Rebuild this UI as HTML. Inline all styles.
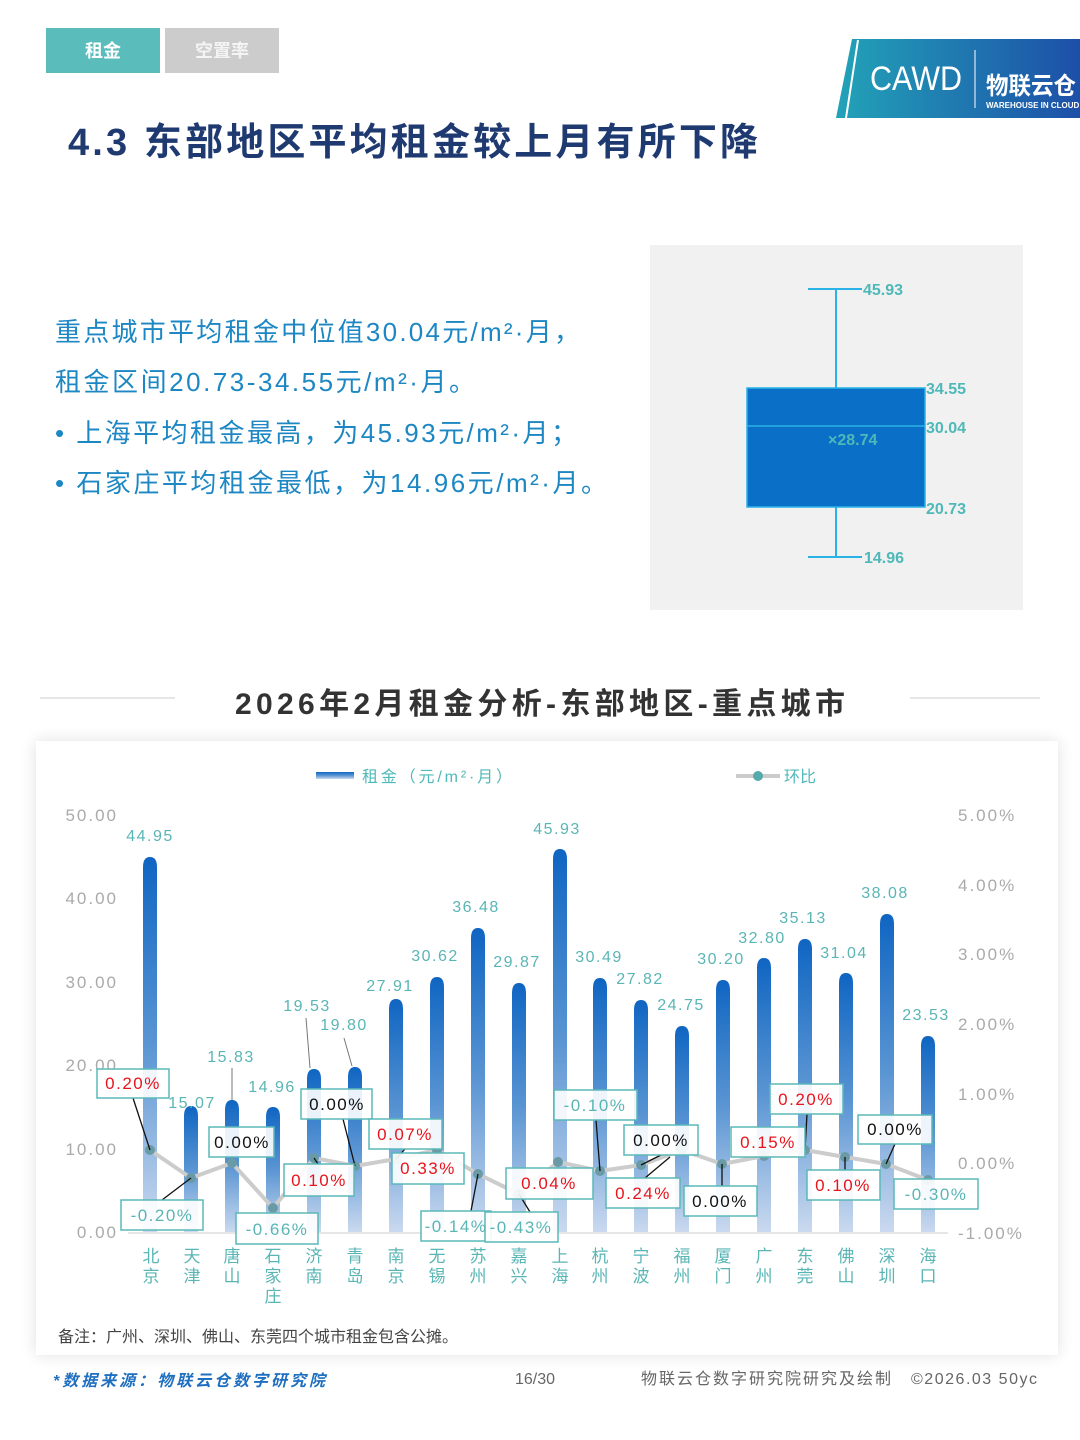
<!DOCTYPE html>
<html><head><meta charset="utf-8"><style>
html,body{margin:0;padding:0;background:#fff;}
svg{display:block;}
</style></head><body>
<svg width="1080" height="1440" viewBox="0 0 1080 1440" xmlns="http://www.w3.org/2000/svg" font-family="Liberation Sans, Noto Sans CJK SC, sans-serif">
<defs>
<linearGradient id="bg" x1="0" y1="0" x2="0" y2="1"><stop offset="0" stop-color="#0f65c2"/><stop offset="0.5" stop-color="#5a95d3"/><stop offset="1" stop-color="#cad9ef"/></linearGradient>
<linearGradient id="lg" x1="0" y1="0" x2="1" y2="0"><stop offset="0" stop-color="#22a3b8"/><stop offset="1" stop-color="#1d4fa8"/></linearGradient>
<filter id="sh" x="-5%" y="-5%" width="110%" height="110%"><feGaussianBlur stdDeviation="8"/></filter>
</defs>
<!-- tabs -->
<rect x="46" y="28" width="114" height="45" fill="#5bbcbc"/>
<text x="103" y="57" font-size="18" font-weight="bold" fill="#fff" text-anchor="middle">租金</text>
<rect x="165" y="28" width="114" height="45" fill="#cccccc"/>
<text x="222" y="57" font-size="18" font-weight="bold" fill="#f4f4f4" text-anchor="middle">空置率</text>
<!-- logo -->
<polygon points="852,39 1080,39 1080,118 836,118" fill="url(#lg)"/>
<line x1="858" y1="40" x2="846" y2="118" stroke="#fff" stroke-width="2"/>
<text x="916" y="90" font-size="34" fill="#fff" text-anchor="middle" textLength="92" lengthAdjust="spacingAndGlyphs">CAWD</text>
<line x1="975" y1="50" x2="975" y2="108" stroke="#fff" stroke-width="1"/>
<text x="986" y="94" font-size="24" font-weight="bold" fill="#fff" textLength="90" lengthAdjust="spacingAndGlyphs">物联云仓</text>
<text x="986" y="108" font-size="8" font-weight="bold" fill="#fff">WAREHOUSE IN CLOUD</text>
<!-- title -->
<text x="68" y="155" font-size="38" font-weight="bold" fill="#1f3a70" textLength="690">4.3 东部地区平均租金较上月有所下降</text>
<!-- left text -->
<g font-size="26" fill="#1d87c4">
<text x="55" y="341" textLength="525">重点城市平均租金中位值30.04元/m²·月，</text>
<text x="55" y="391" textLength="420">租金区间20.73-34.55元/m²·月。</text>
<text x="55" y="442" textLength="522">•  上海平均租金最高，为45.93元/m²·月；</text>
<text x="55" y="492" textLength="552">•  石家庄平均租金最低，为14.96元/m²·月。</text>
</g>
<!-- box plot -->
<rect x="650" y="245" width="373" height="365" fill="#f1f1f1"/>
<line x1="836" y1="289" x2="836" y2="388" stroke="#29b3e6" stroke-width="2"/>
<line x1="836" y1="507" x2="836" y2="557" stroke="#29b3e6" stroke-width="2"/>
<line x1="808" y1="289" x2="862" y2="289" stroke="#29b3e6" stroke-width="2"/>
<line x1="808" y1="557" x2="862" y2="557" stroke="#29b3e6" stroke-width="2"/>
<rect x="747" y="388" width="178" height="119" fill="#0a6fc6" stroke="#29b3e6" stroke-width="1.5"/>
<line x1="747" y1="426" x2="925" y2="426" stroke="#29b3e6" stroke-width="1.5"/>
<g font-size="16" font-weight="bold" fill="#4fb8b8">
<text x="863" y="295">45.93</text>
<text x="926" y="394">34.55</text>
<text x="926" y="433">30.04</text>
<text x="828" y="445">×28.74</text>
<text x="926" y="514">20.73</text>
<text x="864" y="563">14.96</text>
</g>
<!-- section title -->
<line x1="40" y1="698" x2="175" y2="698" stroke="#ddd" stroke-width="1.5"/>
<line x1="910" y1="698" x2="1040" y2="698" stroke="#ddd" stroke-width="1.5"/>
<text x="540" y="714" font-size="30" font-weight="bold" fill="#333" text-anchor="middle" textLength="610">2026年2月租金分析-东部地区-重点城市</text>
<!-- card -->
<rect x="36" y="741" width="1022" height="614" fill="#000" opacity="0.12" filter="url(#sh)"/>
<rect x="36" y="741" width="1022" height="614" fill="#fff"/>
<!-- legend -->
<rect x="316" y="772" width="38" height="7" fill="url(#bg)"/>
<text x="362" y="782" font-size="16" fill="#4fb8b8" textLength="150">租金（元/m²·月）</text>
<line x1="736" y1="776" x2="780" y2="776" stroke="#ccc" stroke-width="4"/>
<circle cx="758" cy="776" r="5" fill="#5aa"/>
<text x="784" y="782" font-size="16" fill="#4fb8b8">环比</text>
<!-- axes labels -->
<g font-size="17" fill="#aaa" text-anchor="end" letter-spacing="2">
<text x="118" y="821">50.00</text><text x="118" y="904">40.00</text><text x="118" y="988">30.00</text>
<text x="118" y="1071">20.00</text><text x="118" y="1155">10.00</text><text x="118" y="1238">0.00</text>
</g>
<g font-size="17" fill="#aaa" letter-spacing="2">
<text x="958" y="821">5.00%</text><text x="958" y="891">4.00%</text><text x="958" y="960">3.00%</text>
<text x="958" y="1030">2.00%</text><text x="958" y="1100">1.00%</text><text x="958" y="1169">0.00%</text>
<text x="958" y="1239">-1.00%</text>
</g>
<line x1="128" y1="1233" x2="948" y2="1233" stroke="#ddd" stroke-width="1.5"/>
<!-- bars -->
<g fill="url(#bg)">
<path d="M143,1232V867Q143,857 150,857Q157,857 157,867V1232Z"/>
<path d="M184,1232V1116Q184,1106 191,1106Q198,1106 198,1116V1232Z"/>
<path d="M225,1232V1110Q225,1100 232,1100Q239,1100 239,1110V1232Z"/>
<path d="M266,1232V1117Q266,1107 273,1107Q280,1107 280,1117V1232Z"/>
<path d="M307,1232V1079Q307,1069 314,1069Q321,1069 321,1079V1232Z"/>
<path d="M348,1232V1077Q348,1067 355,1067Q362,1067 362,1077V1232Z"/>
<path d="M389,1232V1009Q389,999 396,999Q403,999 403,1009V1232Z"/>
<path d="M430,1232V987Q430,977 437,977Q444,977 444,987V1232Z"/>
<path d="M471,1232V938Q471,928 478,928Q485,928 485,938V1232Z"/>
<path d="M512,1232V993Q512,983 519,983Q526,983 526,993V1232Z"/>
<path d="M553,1232V859Q553,849 560,849Q567,849 567,859V1232Z"/>
<path d="M593,1232V988Q593,978 600,978Q607,978 607,988V1232Z"/>
<path d="M634,1232V1010Q634,1000 641,1000Q648,1000 648,1010V1232Z"/>
<path d="M675,1232V1036Q675,1026 682,1026Q689,1026 689,1036V1232Z"/>
<path d="M716,1232V990Q716,980 723,980Q730,980 730,990V1232Z"/>
<path d="M757,1232V968Q757,958 764,958Q771,958 771,968V1232Z"/>
<path d="M798,1232V949Q798,939 805,939Q812,939 812,949V1232Z"/>
<path d="M839,1232V983Q839,973 846,973Q853,973 853,983V1232Z"/>
<path d="M880,1232V924Q880,914 887,914Q894,914 894,924V1232Z"/>
<path d="M921,1232V1046Q921,1036 928,1036Q935,1036 935,1046V1232Z"/>
</g>
<!-- value labels -->
<g font-size="16" fill="#5ab5b5" text-anchor="middle" letter-spacing="1.5">
<text x="150" y="841">44.95</text><text x="192" y="1108">15.07</text><text x="231" y="1062">15.83</text>
<text x="272" y="1092">14.96</text><text x="307" y="1011">19.53</text><text x="344" y="1030">19.80</text>
<text x="390" y="991">27.91</text><text x="435" y="961">30.62</text><text x="476" y="912">36.48</text>
<text x="517" y="967">29.87</text><text x="557" y="834">45.93</text><text x="599" y="962">30.49</text>
<text x="640" y="984">27.82</text><text x="681" y="1010">24.75</text><text x="721" y="964">30.20</text>
<text x="762" y="943">32.80</text><text x="803" y="923">35.13</text><text x="844" y="958">31.04</text>
<text x="885" y="898">38.08</text><text x="926" y="1020">23.53</text>
</g>
<g stroke="#777" stroke-width="1">
<line x1="232" y1="1068" x2="232" y2="1100"/><line x1="306" y1="1018" x2="310" y2="1068"/><line x1="344" y1="1038" x2="352" y2="1066"/>
</g>
<!-- line -->
<polyline points="150,1150 191,1178 232,1163 273,1208 314,1158 355,1166 396,1159 437,1150 478,1174 519,1194 558,1162 600,1171 641,1165 682,1150 722,1164 764,1156 805,1150 845,1157 886,1164 928,1180" fill="none" stroke="#ccc" stroke-width="4" stroke-linejoin="round"/>
<g fill="#6a9aa6">
<circle cx="150" cy="1150" r="5"/><circle cx="191" cy="1178" r="5"/><circle cx="232" cy="1163" r="5"/><circle cx="273" cy="1208" r="5"/><circle cx="314" cy="1158" r="5"/><circle cx="355" cy="1166" r="5"/><circle cx="396" cy="1159" r="5"/><circle cx="437" cy="1150" r="5"/><circle cx="478" cy="1174" r="5"/><circle cx="519" cy="1194" r="5"/><circle cx="558" cy="1162" r="5"/><circle cx="600" cy="1171" r="5"/><circle cx="641" cy="1165" r="5"/><circle cx="682" cy="1150" r="5"/><circle cx="722" cy="1164" r="5"/><circle cx="764" cy="1156" r="5"/><circle cx="805" cy="1150" r="5"/><circle cx="845" cy="1157" r="5"/><circle cx="886" cy="1164" r="5"/><circle cx="928" cy="1180" r="5"/>
</g>
<!-- leader lines -->
<g stroke="#111" stroke-width="1.3">
<line x1="133" y1="1098" x2="150" y2="1150"/><line x1="162" y1="1200" x2="191" y2="1178"/>
<line x1="343" y1="1119" x2="355" y2="1166"/><line x1="318" y1="1164" x2="314" y2="1158"/>
<line x1="405" y1="1149" x2="396" y2="1159"/><line x1="471" y1="1211" x2="478" y2="1174"/>
<line x1="530" y1="1212" x2="519" y2="1194"/><line x1="596" y1="1120" x2="600" y2="1171"/>
<line x1="661" y1="1155" x2="641" y2="1165"/><line x1="645" y1="1178" x2="670" y2="1157"/>
<line x1="722" y1="1186" x2="722" y2="1164"/><line x1="807" y1="1114" x2="805" y2="1150"/>
<line x1="845" y1="1170" x2="845" y2="1157"/><line x1="895" y1="1144" x2="886" y2="1164"/>
</g>
<!-- pct boxes -->
<g stroke="#5ab8b8" stroke-width="1.5" fill="#fff" fill-opacity="0.9">
<rect x="97" y="1069" width="72" height="29"/><rect x="121" y="1200" width="82" height="30"/>
<rect x="209" y="1127" width="65" height="30"/><rect x="236" y="1213" width="82" height="31"/>
<rect x="284" y="1164" width="70" height="32"/><rect x="301" y="1089" width="71" height="30"/>
<rect x="369" y="1119" width="73" height="30"/><rect x="392" y="1153" width="72" height="31"/>
<rect x="421" y="1211" width="70" height="30"/><rect x="485" y="1212" width="73" height="30"/>
<rect x="506" y="1168" width="87" height="31"/><rect x="554" y="1090" width="83" height="30"/>
<rect x="624" y="1125" width="74" height="30"/><rect x="606" y="1178" width="74" height="30"/>
<rect x="684" y="1186" width="73" height="30"/><rect x="731" y="1127" width="74" height="30"/>
<rect x="770" y="1084" width="73" height="30"/><rect x="807" y="1170" width="73" height="30"/>
<rect x="858" y="1115" width="74" height="29"/><rect x="894" y="1179" width="84" height="30"/>
</g>
<g font-size="17" text-anchor="middle" letter-spacing="1.5">
<text x="133" y="1089" fill="#e8141c">0.20%</text><text x="162" y="1221" fill="#5ab5b5">-0.20%</text>
<text x="242" y="1148" fill="#111">0.00%</text><text x="277" y="1235" fill="#5ab5b5">-0.66%</text>
<text x="319" y="1186" fill="#e8141c">0.10%</text><text x="337" y="1110" fill="#111">0.00%</text>
<text x="405" y="1140" fill="#e8141c">0.07%</text><text x="428" y="1174" fill="#e8141c">0.33%</text>
<text x="456" y="1232" fill="#5ab5b5">-0.14%</text><text x="521" y="1233" fill="#5ab5b5">-0.43%</text>
<text x="549" y="1189" fill="#e8141c">0.04%</text><text x="595" y="1111" fill="#5ab5b5">-0.10%</text>
<text x="661" y="1146" fill="#111">0.00%</text><text x="643" y="1199" fill="#e8141c">0.24%</text>
<text x="720" y="1207" fill="#111">0.00%</text><text x="768" y="1148" fill="#e8141c">0.15%</text>
<text x="806" y="1105" fill="#e8141c">0.20%</text><text x="843" y="1191" fill="#e8141c">0.10%</text>
<text x="895" y="1135" fill="#111">0.00%</text><text x="936" y="1200" fill="#5ab5b5">-0.30%</text>
</g>
<!-- city labels -->
<g font-size="17" fill="#5ab5b5" text-anchor="middle">
<text x="151" y="1262">北</text><text x="151" y="1282">京</text>
<text x="192" y="1262">天</text><text x="192" y="1282">津</text>
<text x="232" y="1262">唐</text><text x="232" y="1282">山</text>
<text x="273" y="1262">石</text><text x="273" y="1282">家</text><text x="273" y="1302">庄</text>
<text x="314" y="1262">济</text><text x="314" y="1282">南</text>
<text x="355" y="1262">青</text><text x="355" y="1282">岛</text>
<text x="396" y="1262">南</text><text x="396" y="1282">京</text>
<text x="437" y="1262">无</text><text x="437" y="1282">锡</text>
<text x="478" y="1262">苏</text><text x="478" y="1282">州</text>
<text x="519" y="1262">嘉</text><text x="519" y="1282">兴</text>
<text x="560" y="1262">上</text><text x="560" y="1282">海</text>
<text x="600" y="1262">杭</text><text x="600" y="1282">州</text>
<text x="641" y="1262">宁</text><text x="641" y="1282">波</text>
<text x="682" y="1262">福</text><text x="682" y="1282">州</text>
<text x="723" y="1262">厦</text><text x="723" y="1282">门</text>
<text x="764" y="1262">广</text><text x="764" y="1282">州</text>
<text x="805" y="1262">东</text><text x="805" y="1282">莞</text>
<text x="846" y="1262">佛</text><text x="846" y="1282">山</text>
<text x="887" y="1262">深</text><text x="887" y="1282">圳</text>
<text x="928" y="1262">海</text><text x="928" y="1282">口</text>
</g>
<text x="58" y="1342" font-size="16" fill="#444">备注：广州、深圳、佛山、东莞四个城市租金包含公摊。</text>
<!-- footer -->
<text x="53" y="1386" font-size="16" font-style="italic" font-weight="bold" fill="#1f6fc0" textLength="272">*数据来源：物联云仓数字研究院</text>
<text x="515" y="1384" font-size="16" fill="#666">16/30</text>
<text x="641" y="1384" font-size="16" fill="#666" textLength="250">物联云仓数字研究院研究及绘制</text>
<text x="911" y="1384" font-size="16" fill="#666" textLength="126">©2026.03 50yc</text>
</svg>
</body></html>
